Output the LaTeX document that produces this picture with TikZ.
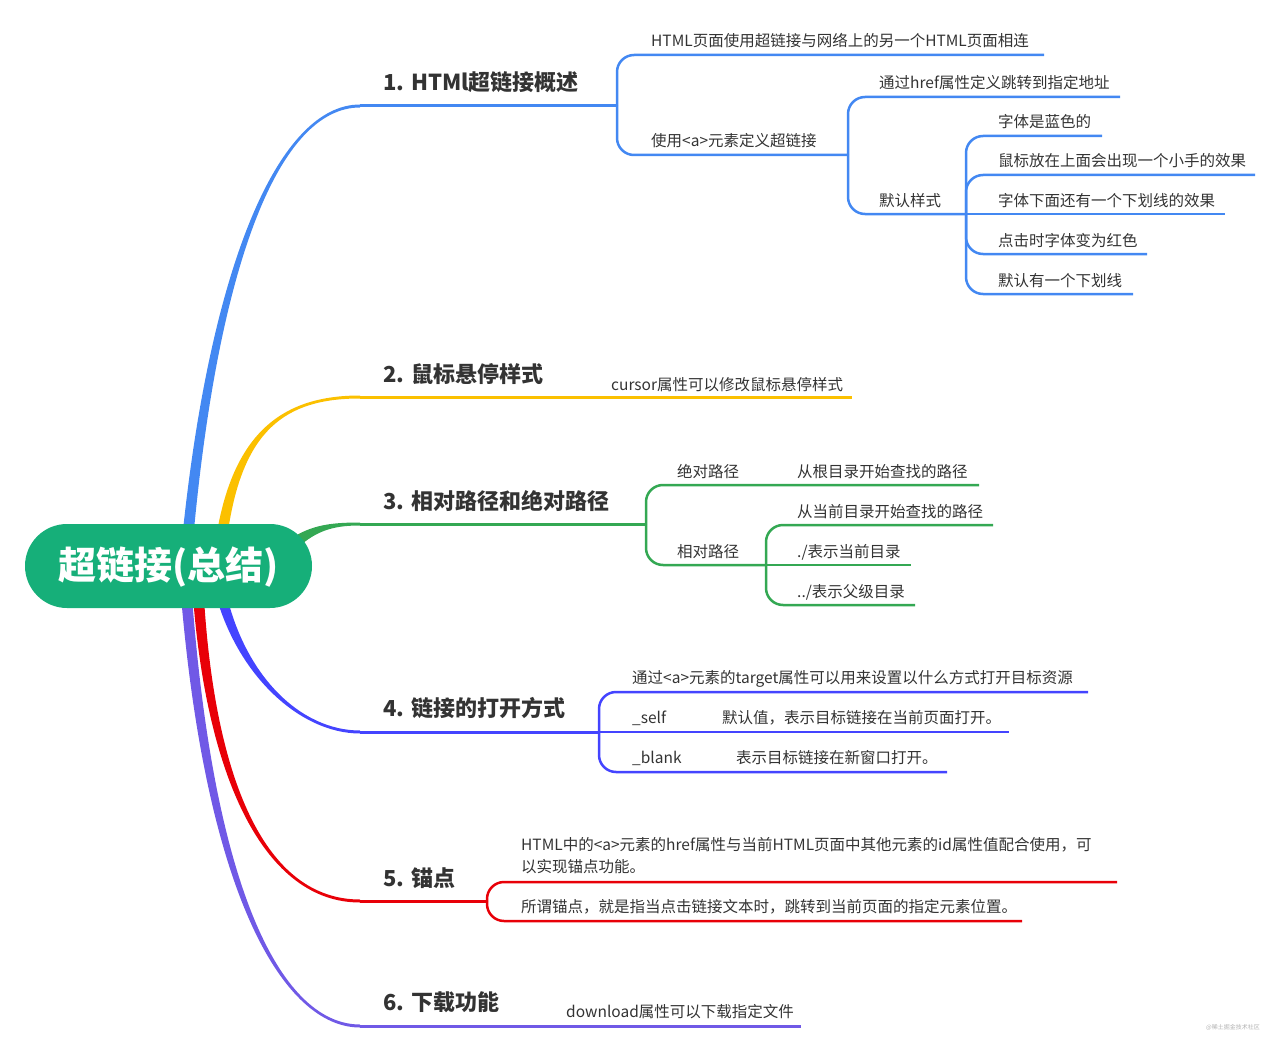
\documentclass[tikz,border=0pt]{standalone}
\usepackage{fontspec}
\setmainfont{Noto Sans CJK SC}
\definecolor{rootgreen}{RGB}{22,175,121}
\definecolor{ink}{RGB}{51,51,51}
\definecolor{cA}{RGB}{67,136,242}
\definecolor{cB}{RGB}{251,192,0}
\definecolor{cC}{RGB}{52,168,83}
\definecolor{cD}{RGB}{68,68,255}
\definecolor{cE}{RGB}{232,0,8}
\definecolor{cF}{RGB}{112,89,230}
\tikzset{
  root/.style={fill=rootgreen,text=white,rounded corners=42pt,minimum width=287pt,minimum height=84pt,inner sep=0pt,text height=33pt,text depth=6pt,font=\fontsize{38}{42}\selectfont\bfseries},
  topic/.style={anchor=base west,inner sep=0pt,text=ink,font=\fontsize{22}{26}\selectfont\bfseries},
  leaf/.style={anchor=base west,inner sep=0pt,text=ink,font=\fontsize{15.5}{22}\selectfont},
  trunk/.style={line width=3pt},
  twig/.style={line width=2.5pt,rounded corners=17pt},
}
\begin{document}
\begin{tikzpicture}[x=1pt,y=-1pt]
	\useasboundingbox (0,0) rectangle (1280,1054);
	% main branches, thick at the root
	\foreach \c/\xa/\ya/\xb/\yb/\xc/\ye/\s in {cA/188/535/215/260/280/106/-1,cB/222/535/238/430/285/397/-1,cD/220/590/240/675/300/732/1,cE/198/590/210/780/265/901/1,cF/186/590/210/900/285/1026/1}
		\fill[color=\c] (\xa-5.5,\ya) .. controls (\xb-4,\yb) and (\xc,\ye+1.5*\s) .. (360,\ye+1.5*\s) -- (360,\ye-1.5*\s) .. controls (\xc,\ye-1.5*\s) and (\xb+4,\yb) .. (\xa+5.5,\ya) -- cycle;
	\fill[cC] (285,543) .. controls (308,525) and (330,522.5) .. (360,522.5) -- (360,525.5) .. controls (332,525.5) and (314,531) .. (292,553) -- cycle;
	\node[root] (root) at (168.5,566) {超链接(总结)};
	% 1
	\coordinate (k1) at (360,106); \coordinate (f1) at (617,106);
	\draw[cA,trunk] (k1)--(f1);
	\node[topic] (t1) at (383,91) {1. HTMl超链接概述};
	\coordinate (u11) at (1044,55); \coordinate (f12) at (848,155);
	\draw[cA,twig] (f1) |- (u11);
	\draw[cA,twig] (f1) |- (f12);
	\node[leaf] (t11) at (651,47) {HTML页面使用超链接与网络上的另一个HTML页面相连};
	\node[leaf] (t12) at (651,147) {使用<a>元素定义超链接};
	\coordinate (u121) at (1120,97); \coordinate (f122) at (966,214);
	\draw[cA,twig] (f12) |- (u121);
	\draw[cA,twig] (f12) |- (f122);
	\node[leaf] (t121) at (879,89) {通过href属性定义跳转到指定地址};
	\node[leaf] (t122) at (879,206) {默认样式};
	\coordinate (u1221) at (1102,136); \coordinate (u1222) at (1255,175);
	\coordinate (u1223) at (1225,214);
	\coordinate (u1224) at (1147,254); \coordinate (u1225) at (1133,294);
	\draw[cA,twig] (f122) |- (u1221);
	\draw[cA,twig] (f122) |- (u1222);
	\draw[cA,twig] (f122) -- (u1223);
	\draw[cA,twig] (f122) |- (u1224);
	\draw[cA,twig] (f122) |- (u1225);
	\node[leaf] (t1221) at (998,128) {字体是蓝色的};
	\node[leaf] (t1222) at (998,167) {鼠标放在上面会出现一个小手的效果};
	\node[leaf] (t1223) at (998,206) {字体下面还有一个下划线的效果};
	\node[leaf] (t1224) at (998,246) {点击时字体变为红色};
	\node[leaf] (t1225) at (998,286) {默认有一个下划线};
	% 2
	\coordinate (k2) at (360,397); \coordinate (u21) at (852,397);
	\draw[cB,trunk] (k2)--(u21);
	\node[topic] (t2) at (383,382) {2. 鼠标悬停样式};
	\node[leaf] (t21) at (611,390) {cursor属性可以修改鼠标悬停样式};
	% 3
	\coordinate (k3) at (360,524); \coordinate (f3) at (646,524);
	\draw[cC,trunk] (k3)--(f3);
	\node[topic] (t3) at (383,509) {3. 相对路径和绝对路径};
	\coordinate (u31) at (979,485); \coordinate (f32) at (766,565);
	\draw[cC,twig] (f3) |- (u31);
	\draw[cC,twig] (f3) |- (f32);
	\node[leaf] (t31) at (677,477) {绝对路径};
	\node[leaf] (t311) at (797,477) {从根目录开始查找的路径};
	\node[leaf] (t32) at (677,557) {相对路径};
	\coordinate (u321) at (993,525); \coordinate (u322) at (911,565); \coordinate (u323) at (915,605);
	\draw[cC,twig] (f32) |- (u321);
	\draw[cC,twig] (f32) -- (u322);
	\draw[cC,twig] (f32) |- (u323);
	\node[leaf] (t321) at (797,517) {从当前目录开始查找的路径};
	\node[leaf] (t322) at (797,557) {./表示当前目录};
	\node[leaf] (t323) at (797,597) {../表示父级目录};
	% 4
	\coordinate (k4) at (360,732); \coordinate (f4) at (599,732);
	\draw[cD,trunk] (k4)--(f4);
	\node[topic] (t4) at (383,716) {4. 链接的打开方式};
	\coordinate (u41) at (1088,692); \coordinate (u42) at (1009,732); \coordinate (u43) at (947,772);
	\draw[cD,twig] (f4) |- (u41);
	\draw[cD,twig] (f4) -- (u42);
	\draw[cD,twig] (f4) |- (u43);
	\node[leaf] (t41) at (632,683) {通过<a>元素的target属性可以用来设置以什么方式打开目标资源};
	\node[leaf] (t42) at (632,723) {\_self};
	\node[leaf] (t421) at (722,723) {默认值，表示目标链接在当前页面打开。};
	\node[leaf] (t43) at (632,763) {\_blank};
	\node[leaf] (t431) at (736,763) {表示目标链接在新窗口打开。};
	% 5
	\coordinate (k5) at (360,901); \coordinate (f5) at (487,901);
	\draw[cE,trunk] (k5)--(f5);
	\node[topic] (t5) at (383,886) {5. 锚点};
	\coordinate (u51) at (1117,882); \coordinate (u52) at (1022,921);
	\draw[cE,twig] (f5) |- (u51);
	\draw[cE,twig] (f5) |- (u52);
	\node[leaf,align=left] (t51) at (521,872) {HTML中的<a>元素的href属性与当前HTML页面中其他元素的id属性值配合使用，可\\以实现锚点功能。};
	\node[leaf] (t52) at (521,912) {所谓锚点，就是指当点击链接文本时，跳转到当前页面的指定元素位置。};
	% 6
	\coordinate (k6) at (360,1026); \coordinate (u61) at (801,1026);
	\draw[cF,trunk] (k6)--(u61);
	\node[topic] (t6) at (383,1010) {6. 下载功能};
	\node[leaf] (t61) at (566,1017) {download属性可以下载指定文件};
	\node[text=gray!60,font=\fontsize{6}{7}\selectfont] (mark) at (1233,1027) {@稀土掘金技术社区};
\end{tikzpicture}
\end{document}
